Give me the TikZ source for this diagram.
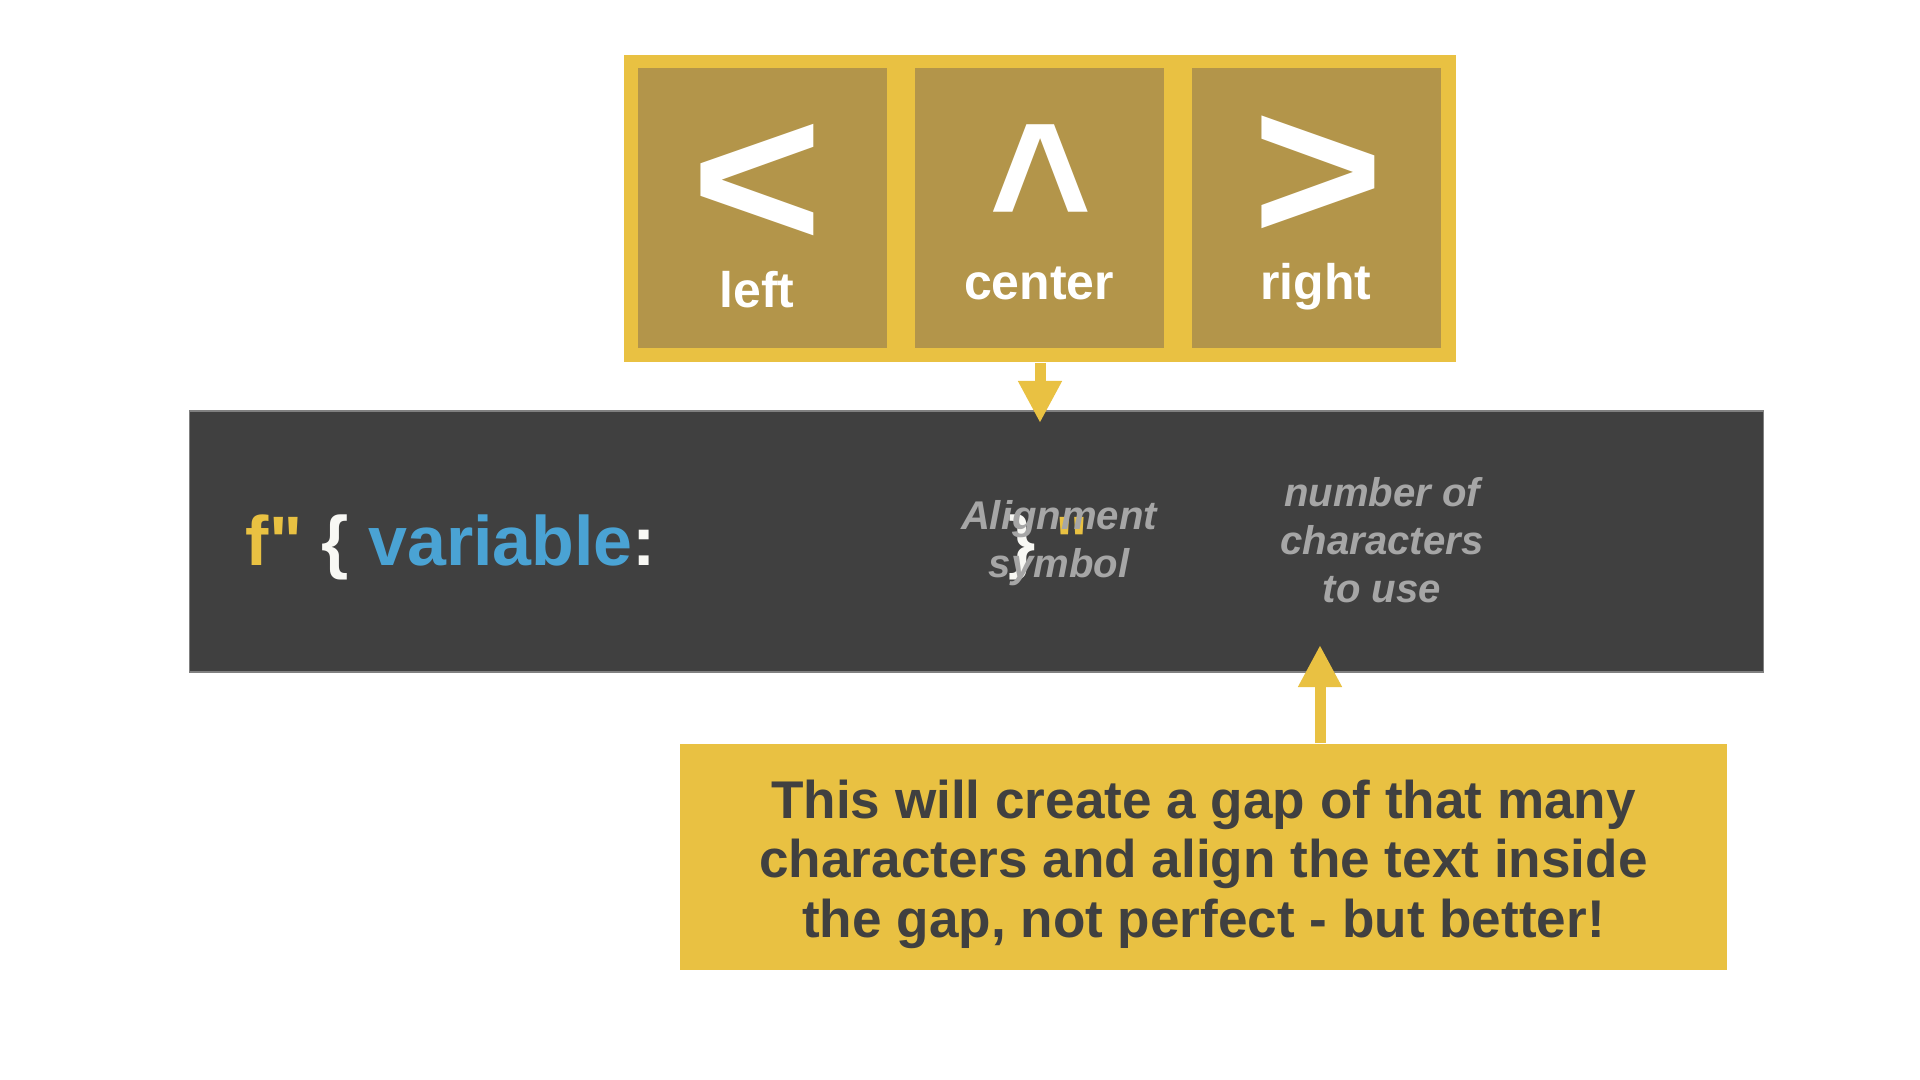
\documentclass[tikz,border=0pt]{standalone}
\usepackage{fontspec}
\setmainfont{Liberation Sans}[Ligatures=TeXOff]
\usetikzlibrary{arrows.meta,positioning}
\definecolor{FrameYellow}{HTML}{E9C142}
\definecolor{TileGold}{HTML}{B3954A}
\definecolor{CodeGrey}{HTML}{404040}
\definecolor{CodeBlue}{HTML}{4AA3D4}
\definecolor{CodeWhite}{HTML}{F8F8F4}
\definecolor{LabelGrey}{HTML}{A6A6A6}
\tikzset{
  tilebox/.style={rectangle, fill=TileGold, minimum width=2.49cm, minimum height=2.80cm, inner sep=0pt},
  tilesymbol/.style={text=white, font=\bfseries\fontsize{64}{64}\selectfont, inner sep=0pt},
  tilelabel/.style={text=white, font=\bfseries\fontsize{14.2}{17}\selectfont, inner sep=0pt, anchor=base},
  codetext/.style={font=\bfseries\fontsize{19.9}{24}\selectfont, inner sep=0pt, anchor=base west},
  hintlabel/.style={text=LabelGrey, font=\bfseries\itshape\fontsize{11.4}{13.7}\selectfont, align=center, inner sep=0pt, anchor=base},
  yellowarrow/.style={-{Triangle[width=0.41cm,length=0.42cm]}, FrameYellow, line width=0.11cm},
}
\begin{document}
\begin{tikzpicture}[x=0.01cm, y=-0.01cm]
  \useasboundingbox[fill=white] (0,0) rectangle (1920,1080);
  % the three alignment tiles
  \node[rectangle, fill=FrameYellow, minimum width=8.32cm, minimum height=3.07cm, inner sep=0pt] (frame) at (1040,208.5) {};
  \node[tilebox] (tileleft) at (762.5,208) {};
  \node[tilebox] (tilecenter) at (1039.5,208) {};
  \node[tilebox] (tileright) at (1316.5,208) {};
  \node[tilesymbol] (symleft) at (757,186) {\scalebox{1}[0.92]{<}};
  \node[tilesymbol] (symcenter) at (1041,194) {\scalebox{0.78}[0.89]{\textasciicircum}};
  \node[tilesymbol] (symright) at (1318,179) {\scalebox{1}[0.93]{>}};
  \node[tilelabel] (lblleft) at (757,308) {left};
  \node[tilelabel] (lblcenter) at (1039,300) {center};
  \node[tilelabel] (lblright) at (1316,300) {right};
  % the f-string
  \node[rectangle, fill=CodeGrey, draw=gray, line width=0.015cm, minimum width=15.73cm, minimum height=2.61cm, inner sep=0pt] (codebox) at (976.5,541.5) {};
  \node[codetext] (fopen) at (245,566) {\textcolor{FrameYellow}{f"} \textcolor{CodeWhite}{\{} \textcolor{CodeBlue}{variable}\textcolor{CodeWhite}{:}};
  \node[codetext] (fclose) at (1008,566) {\textcolor{CodeWhite}{\}} \textcolor{FrameYellow}{"}};
  \node[hintlabel] (alignlbl) at (1059,578) {Alignment\\symbol};
  \node[hintlabel] (widthlbl) at (1382,603) {number of\\characters\\to use};
  % the note
  \node[rectangle, fill=FrameYellow, minimum width=10.47cm, minimum height=2.26cm, inner sep=0pt,
        text=CodeGrey, align=center, font=\bfseries\fontsize{15.1}{17.1}\selectfont] (notebox) at (1203.5,857) {};
  \node[text=CodeGrey, align=center, font=\bfseries\fontsize{15.1}{16.9}\selectfont] (notetext) at (1203.5,864)
        {This will create a gap of that many\\characters and align the text inside\\the gap, not perfect - but better!};
  % arrows
  \coordinate (aligntip) at (1040,423);
  \coordinate (gaptip) at (1320,645);
  \draw[yellowarrow] (frame.south) -- (aligntip);
  \draw[yellowarrow] (gaptip |- notebox.north) -- (gaptip);
\end{tikzpicture}
\end{document}
